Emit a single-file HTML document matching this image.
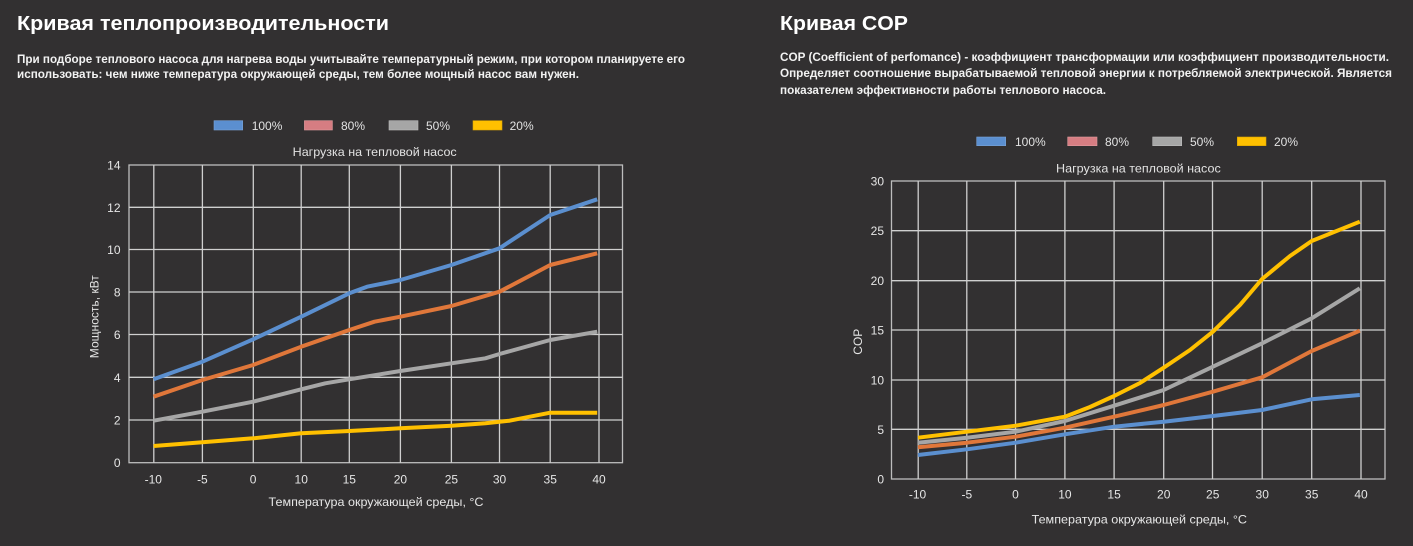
<!DOCTYPE html>
<html><head><meta charset="utf-8"><style>
html,body{margin:0;padding:0;background:#323031;}
svg{display:block}
text{font-family:"Liberation Sans",Arial,sans-serif;}
</style></head><body>
<svg width="1413" height="546" viewBox="0 0 1413 546" xmlns="http://www.w3.org/2000/svg">
<rect width="1413" height="546" fill="#323031"/>

<!-- Left header -->
<text x="17" y="30" font-size="20" font-weight="bold" fill="#fff" textLength="372" lengthAdjust="spacingAndGlyphs">Кривая теплопроизводительности</text>
<text x="17" y="63" font-size="12" font-weight="bold" fill="#f2f2f2" textLength="668" lengthAdjust="spacingAndGlyphs">При подборе теплового насоса для нагрева воды учитывайте температурный режим, при котором планируете его</text>
<text x="17" y="78" font-size="12" font-weight="bold" fill="#f2f2f2" textLength="562" lengthAdjust="spacingAndGlyphs">использовать: чем ниже температура окружающей среды, тем более мощный насос вам нужен.</text>

<!-- Right header -->
<text x="780" y="30" font-size="20" font-weight="bold" fill="#fff" textLength="128" lengthAdjust="spacingAndGlyphs">Кривая COP</text>
<text x="780" y="61" font-size="12" font-weight="bold" fill="#f2f2f2" textLength="609" lengthAdjust="spacingAndGlyphs">COP (Coefficient of perfomance) - коэффициент трансформации или коэффициент производительности.</text>
<text x="780" y="77" font-size="12" font-weight="bold" fill="#f2f2f2" textLength="612" lengthAdjust="spacingAndGlyphs">Определяет соотношение вырабатываемой тепловой энергии к потребляемой электрической. Является</text>
<text x="780" y="94" font-size="12" font-weight="bold" fill="#f2f2f2" textLength="326" lengthAdjust="spacingAndGlyphs">показателем эффективности работы теплового насоса.</text>

<!-- Left legend -->
<g font-size="12" fill="#e2e2e2">
<rect x="214" y="120.7" width="28.7" height="9.3" fill="#5b8fd0" stroke="#7aa3d8" stroke-width="0.6"/>
<text x="251.7" y="130">100%</text>
<rect x="304.4" y="120.7" width="28" height="9.3" fill="#d67d82" stroke="#e09a9e" stroke-width="0.6"/>
<text x="341" y="130">80%</text>
<rect x="389" y="120.7" width="29" height="9.3" fill="#a6a6a6" stroke="#bdbdbd" stroke-width="0.6"/>
<text x="426" y="130">50%</text>
<rect x="473" y="120.7" width="29" height="9.3" fill="#ffc000" stroke="#d9a300" stroke-width="0.6"/>
<text x="509.6" y="130">20%</text>
</g>
<text x="374.7" y="156" font-size="12" fill="#e2e2e2" text-anchor="middle" textLength="164" lengthAdjust="spacingAndGlyphs">Нагрузка на тепловой насос</text>

<!-- Left grid -->
<g stroke="#cfcfcf" stroke-width="1.3" fill="none">
<rect x="129" y="165" width="493.5" height="297.7" stroke="#bdbdbd"/>
<line x1="129" y1="207.3" x2="622.5" y2="207.3"/>
<line x1="129" y1="249.5" x2="622.5" y2="249.5"/>
<line x1="129" y1="292" x2="622.5" y2="292"/>
<line x1="129" y1="334.5" x2="622.5" y2="334.5"/>
<line x1="129" y1="377.3" x2="622.5" y2="377.3"/>
<line x1="129" y1="420" x2="622.5" y2="420"/>
<line x1="153.8" y1="165" x2="153.8" y2="462.7"/>
<line x1="202.4" y1="165" x2="202.4" y2="462.7"/>
<line x1="253.3" y1="165" x2="253.3" y2="462.7"/>
<line x1="301.2" y1="165" x2="301.2" y2="462.7"/>
<line x1="349.3" y1="165" x2="349.3" y2="462.7"/>
<line x1="400.4" y1="165" x2="400.4" y2="462.7"/>
<line x1="451.4" y1="165" x2="451.4" y2="462.7"/>
<line x1="499.5" y1="165" x2="499.5" y2="462.7"/>
<line x1="550.2" y1="165" x2="550.2" y2="462.7"/>
<line x1="599" y1="165" x2="599" y2="462.7"/>
</g>
<!-- Left y labels -->
<g font-size="12" fill="#e6e6e6" text-anchor="end">
<text x="120.5" y="169.5">14</text>
<text x="120.5" y="211.8">12</text>
<text x="120.5" y="254">10</text>
<text x="120.5" y="296.5">8</text>
<text x="120.5" y="339">6</text>
<text x="120.5" y="381.8">4</text>
<text x="120.5" y="424.5">2</text>
<text x="120.5" y="467.2">0</text>
</g>
<g font-size="12" fill="#e6e6e6" text-anchor="middle">
<text x="153.3" y="483.7">-10</text>
<text x="202.4" y="483.7">-5</text>
<text x="253.1" y="483.7">0</text>
<text x="301.2" y="483.7">10</text>
<text x="349.3" y="483.7">15</text>
<text x="400.4" y="483.7">20</text>
<text x="451.4" y="483.7">25</text>
<text x="499.5" y="483.7">30</text>
<text x="550.2" y="483.7">35</text>
<text x="599" y="483.7">40</text>
</g>
<text x="376" y="506" font-size="12" fill="#e6e6e6" text-anchor="middle" textLength="215" lengthAdjust="spacingAndGlyphs">Температура окружающей среды, °С</text>
<text transform="translate(98.3,316.7) rotate(-90)" font-size="12" fill="#e6e6e6" text-anchor="middle" textLength="83" lengthAdjust="spacingAndGlyphs">Мощность, кВт</text>

<!-- Left series -->
<g fill="none" stroke-width="4" stroke-linejoin="round">
<polyline stroke="#5b8fcf" points="153.6,379.3 202.4,361.7 253.1,339.3 301.2,316.7 349.3,293.3 367.1,286.7 400.4,280 451.4,265 499.5,248.3 509.5,241.7 550.2,215 597.2,199.3"/>
<polyline stroke="#e0773a" points="153.6,396.7 202.4,380 253.1,365 301.2,346.7 349.3,330 374.5,321.7 400.4,316.7 451.4,306 499.5,291.7 550.2,265 597.2,253.3"/>
<polyline stroke="#a6a6a6" points="153.6,420.7 202.4,411.7 253.1,401.7 301.2,389.3 325.3,383.3 349.3,379.3 400.4,371 451.4,363.3 485.4,358.3 499.5,354 550.2,340 597.2,331.7"/>
<polyline stroke="#ffc000" points="153.6,446 202.4,442.3 253.1,438.3 301.2,433.3 349.3,431 400.4,428.3 451.4,425.7 485.4,423.3 509.5,420.7 550.2,412.7 597.2,412.7"/>
</g>

<!-- Right legend -->
<g font-size="12" fill="#e2e2e2">
<rect x="976.7" y="137" width="29" height="8.7" fill="#5b8fd0" stroke="#7aa3d8" stroke-width="0.6"/>
<text x="1015" y="146.2">100%</text>
<rect x="1067.7" y="137" width="29.3" height="8.7" fill="#d67d82" stroke="#e09a9e" stroke-width="0.6"/>
<text x="1105" y="146.2">80%</text>
<rect x="1152.7" y="137" width="29" height="8.7" fill="#a6a6a6" stroke="#bdbdbd" stroke-width="0.6"/>
<text x="1190" y="146.2">50%</text>
<rect x="1237.3" y="137" width="28.7" height="8.7" fill="#ffc000" stroke="#d9a300" stroke-width="0.6"/>
<text x="1274" y="146.2">20%</text>
</g>
<text x="1138.4" y="172.3" font-size="12" fill="#e2e2e2" text-anchor="middle" textLength="164.7" lengthAdjust="spacingAndGlyphs">Нагрузка на тепловой насос</text>

<!-- Right grid -->
<g stroke="#cfcfcf" stroke-width="1.3" fill="none">
<rect x="891.5" y="181" width="493.5" height="298" stroke="#bdbdbd"/>
<line x1="891.5" y1="230.7" x2="1385" y2="230.7"/>
<line x1="891.5" y1="280.7" x2="1385" y2="280.7"/>
<line x1="891.5" y1="330" x2="1385" y2="330"/>
<line x1="891.5" y1="380" x2="1385" y2="380"/>
<line x1="891.5" y1="429.3" x2="1385" y2="429.3"/>
<line x1="918.2" y1="181" x2="918.2" y2="479"/>
<line x1="966.8" y1="181" x2="966.8" y2="479"/>
<line x1="1015.5" y1="181" x2="1015.5" y2="479"/>
<line x1="1064.9" y1="181" x2="1064.9" y2="479"/>
<line x1="1114.1" y1="181" x2="1114.1" y2="479"/>
<line x1="1163.7" y1="181" x2="1163.7" y2="479"/>
<line x1="1212.5" y1="181" x2="1212.5" y2="479"/>
<line x1="1262.2" y1="181" x2="1262.2" y2="479"/>
<line x1="1311.7" y1="181" x2="1311.7" y2="479"/>
<line x1="1361" y1="181" x2="1361" y2="479"/>
</g>
<g font-size="12" fill="#e6e6e6" text-anchor="end">
<text x="884" y="185.5">30</text>
<text x="884" y="235.2">25</text>
<text x="884" y="285.2">20</text>
<text x="884" y="334.5">15</text>
<text x="884" y="384.5">10</text>
<text x="884" y="433.8">5</text>
<text x="884" y="483.5">0</text>
</g>
<g font-size="12" fill="#e6e6e6" text-anchor="middle">
<text x="917.5" y="498.6">-10</text>
<text x="966.8" y="498.6">-5</text>
<text x="1015.5" y="498.6">0</text>
<text x="1064.9" y="498.6">10</text>
<text x="1114.1" y="498.6">15</text>
<text x="1163.7" y="498.6">20</text>
<text x="1212.7" y="498.6">25</text>
<text x="1262.2" y="498.6">30</text>
<text x="1311.7" y="498.6">35</text>
<text x="1361" y="498.6">40</text>
</g>
<text x="1139.3" y="523.6" font-size="12" fill="#e6e6e6" text-anchor="middle" textLength="215.4" lengthAdjust="spacingAndGlyphs">Температура окружающей среды, °С</text>
<text transform="translate(862,341.7) rotate(-90)" font-size="12" fill="#e6e6e6" text-anchor="middle">COP</text>

<!-- Right series -->
<g fill="none" stroke-width="4" stroke-linejoin="round">
<polyline stroke="#5b8fcf" points="918,455 966.9,449.3 1015.7,442.7 1064.9,434.3 1114.1,426.7 1163.7,421.7 1212.9,416 1262.1,410 1311.7,399.3 1359.8,395"/>
<polyline stroke="#e0773a" points="918,447.3 966.9,442.7 1015.7,436.7 1064.9,427.7 1114.1,416.7 1163.7,405 1212.9,391.7 1262.1,377.3 1311.7,351 1359.8,330.7"/>
<polyline stroke="#a6a6a6" points="918,442.7 966.9,437.7 1015.7,431.7 1064.9,421 1114.1,405.7 1163.7,390 1212.9,366.7 1262.1,343.3 1311.7,318.3 1359.8,288.3"/>
<polyline stroke="#ffc000" points="918,437.7 966.9,431.7 1015.7,425.7 1064.9,416.7 1090,407 1114.1,396 1140,383 1163.7,367.7 1190,350 1212.9,331.7 1240,305 1262.1,279 1290,256 1311.7,241 1359.8,221.7"/>
</g>
</svg>
</body></html>
